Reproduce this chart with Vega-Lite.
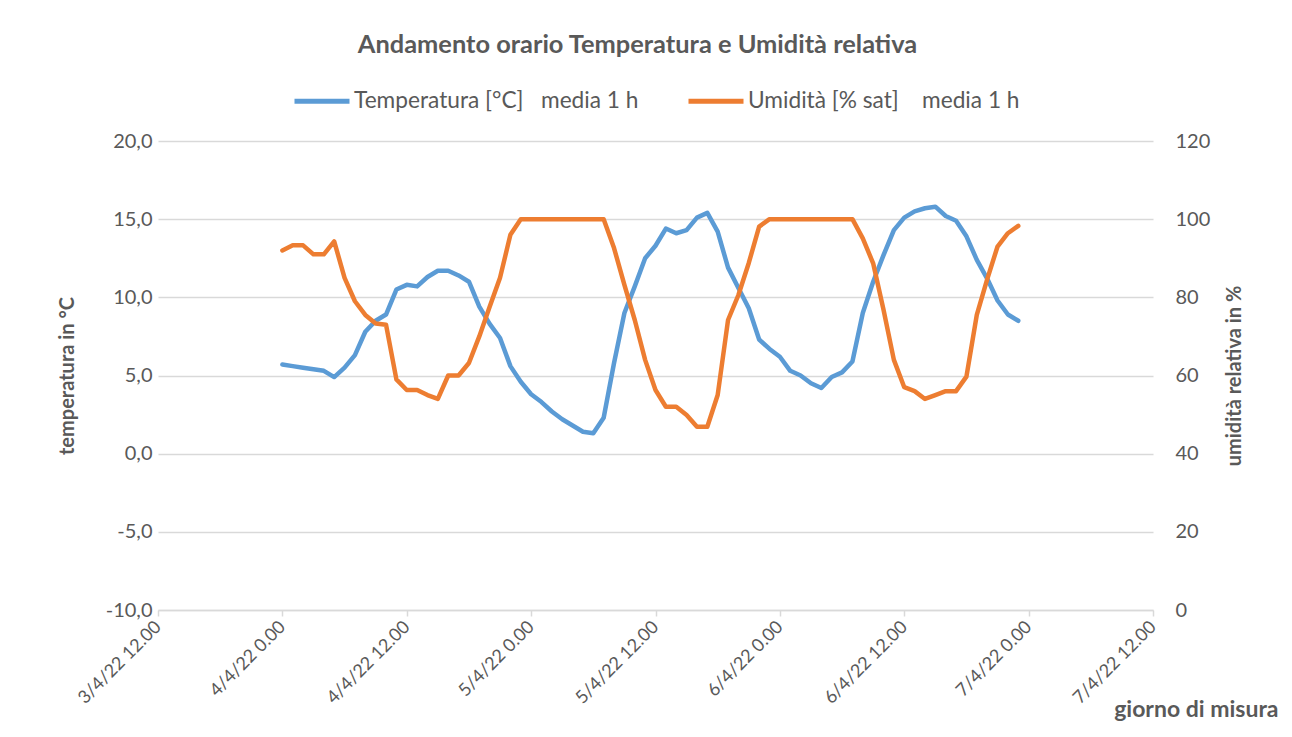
{
  "$schema": "https://vega.github.io/schema/vega-lite/v6.json",
  "width": 995,
  "height": 469,
  "autosize": "none",
  "padding": {"left": 158, "top": 141, "right": 139, "bottom": 127},
  "background": "white",
  "title": {
    "text": "Andamento orario Temperatura e Umidità relativa",
    "font": "Lato",
    "fontSize": 25.4,
    "fontWeight": "bold",
    "color": "#595959",
    "offset": 13,
    "dx": -18
  },
  "config": {
    "view": {"stroke": null},
    "font": "Lato",
    "axis": {
      "labelFont": "Lato",
      "labelFontSize": 20,
      "labelColor": "#595959",
      "titleFont": "Lato",
      "titleFontSize": 20,
      "titleFontWeight": "bold",
      "titleColor": "#595959"
    },
    "legend": {
      "labelFont": "Lato",
      "labelFontSize": 22.7,
      "labelColor": "#595959"
    }
  },
  "data": {
    "values": [
      {"t": "2022-04-04T00:00:00Z", "temp": 5.7, "hum": 92},
      {"t": "2022-04-04T01:00:00Z", "temp": 5.6, "hum": 93.3},
      {"t": "2022-04-04T02:00:00Z", "temp": 5.5, "hum": 93.3},
      {"t": "2022-04-04T03:00:00Z", "temp": 5.4, "hum": 91},
      {"t": "2022-04-04T04:00:00Z", "temp": 5.3, "hum": 91},
      {"t": "2022-04-04T05:00:00Z", "temp": 4.9, "hum": 94.3},
      {"t": "2022-04-04T06:00:00Z", "temp": 5.5, "hum": 85},
      {"t": "2022-04-04T07:00:00Z", "temp": 6.3, "hum": 79},
      {"t": "2022-04-04T08:00:00Z", "temp": 7.8, "hum": 75.5},
      {"t": "2022-04-04T09:00:00Z", "temp": 8.5, "hum": 73.3},
      {"t": "2022-04-04T10:00:00Z", "temp": 8.9, "hum": 73},
      {"t": "2022-04-04T11:00:00Z", "temp": 10.5, "hum": 59},
      {"t": "2022-04-04T12:00:00Z", "temp": 10.8, "hum": 56.3},
      {"t": "2022-04-04T13:00:00Z", "temp": 10.7, "hum": 56.3},
      {"t": "2022-04-04T14:00:00Z", "temp": 11.3, "hum": 55},
      {"t": "2022-04-04T15:00:00Z", "temp": 11.7, "hum": 54},
      {"t": "2022-04-04T16:00:00Z", "temp": 11.7, "hum": 60},
      {"t": "2022-04-04T17:00:00Z", "temp": 11.4, "hum": 60},
      {"t": "2022-04-04T18:00:00Z", "temp": 11.0, "hum": 63.2},
      {"t": "2022-04-04T19:00:00Z", "temp": 9.4, "hum": 70},
      {"t": "2022-04-04T20:00:00Z", "temp": 8.3, "hum": 77.6},
      {"t": "2022-04-04T21:00:00Z", "temp": 7.4, "hum": 85},
      {"t": "2022-04-04T22:00:00Z", "temp": 5.6, "hum": 96},
      {"t": "2022-04-04T23:00:00Z", "temp": 4.6, "hum": 100},
      {"t": "2022-04-05T00:00:00Z", "temp": 3.8, "hum": 100},
      {"t": "2022-04-05T01:00:00Z", "temp": 3.3, "hum": 100},
      {"t": "2022-04-05T02:00:00Z", "temp": 2.7, "hum": 100},
      {"t": "2022-04-05T03:00:00Z", "temp": 2.2, "hum": 100},
      {"t": "2022-04-05T04:00:00Z", "temp": 1.8, "hum": 100},
      {"t": "2022-04-05T05:00:00Z", "temp": 1.4, "hum": 100},
      {"t": "2022-04-05T06:00:00Z", "temp": 1.3, "hum": 100},
      {"t": "2022-04-05T07:00:00Z", "temp": 2.3, "hum": 100},
      {"t": "2022-04-05T08:00:00Z", "temp": 5.8, "hum": 92.6},
      {"t": "2022-04-05T09:00:00Z", "temp": 9.0, "hum": 83.2},
      {"t": "2022-04-05T10:00:00Z", "temp": 10.7, "hum": 74.2},
      {"t": "2022-04-05T11:00:00Z", "temp": 12.5, "hum": 64},
      {"t": "2022-04-05T12:00:00Z", "temp": 13.3, "hum": 56.3},
      {"t": "2022-04-05T13:00:00Z", "temp": 14.4, "hum": 52},
      {"t": "2022-04-05T14:00:00Z", "temp": 14.1, "hum": 52},
      {"t": "2022-04-05T15:00:00Z", "temp": 14.3, "hum": 49.9},
      {"t": "2022-04-05T16:00:00Z", "temp": 15.1, "hum": 46.9},
      {"t": "2022-04-05T17:00:00Z", "temp": 15.4, "hum": 46.9},
      {"t": "2022-04-05T18:00:00Z", "temp": 14.2, "hum": 55},
      {"t": "2022-04-05T19:00:00Z", "temp": 11.9, "hum": 74.2},
      {"t": "2022-04-05T20:00:00Z", "temp": 10.6, "hum": 80.6},
      {"t": "2022-04-05T21:00:00Z", "temp": 9.3, "hum": 88.8},
      {"t": "2022-04-05T22:00:00Z", "temp": 7.3, "hum": 98.1},
      {"t": "2022-04-05T23:00:00Z", "temp": 6.7, "hum": 100},
      {"t": "2022-04-06T00:00:00Z", "temp": 6.2, "hum": 100},
      {"t": "2022-04-06T01:00:00Z", "temp": 5.3, "hum": 100},
      {"t": "2022-04-06T02:00:00Z", "temp": 5.0, "hum": 100},
      {"t": "2022-04-06T03:00:00Z", "temp": 4.5, "hum": 100},
      {"t": "2022-04-06T04:00:00Z", "temp": 4.2, "hum": 100},
      {"t": "2022-04-06T05:00:00Z", "temp": 4.9, "hum": 100},
      {"t": "2022-04-06T06:00:00Z", "temp": 5.2, "hum": 100},
      {"t": "2022-04-06T07:00:00Z", "temp": 5.9, "hum": 100},
      {"t": "2022-04-06T08:00:00Z", "temp": 9.0, "hum": 95.1},
      {"t": "2022-04-06T09:00:00Z", "temp": 11.0, "hum": 88.7},
      {"t": "2022-04-06T10:00:00Z", "temp": 12.7, "hum": 76.8},
      {"t": "2022-04-06T11:00:00Z", "temp": 14.3, "hum": 64},
      {"t": "2022-04-06T12:00:00Z", "temp": 15.1, "hum": 57},
      {"t": "2022-04-06T13:00:00Z", "temp": 15.5, "hum": 56},
      {"t": "2022-04-06T14:00:00Z", "temp": 15.7, "hum": 54},
      {"t": "2022-04-06T15:00:00Z", "temp": 15.8, "hum": 55},
      {"t": "2022-04-06T16:00:00Z", "temp": 15.2, "hum": 56},
      {"t": "2022-04-06T17:00:00Z", "temp": 14.9, "hum": 56},
      {"t": "2022-04-06T18:00:00Z", "temp": 13.9, "hum": 59.7},
      {"t": "2022-04-06T19:00:00Z", "temp": 12.4, "hum": 75.5},
      {"t": "2022-04-06T20:00:00Z", "temp": 11.2, "hum": 84.6},
      {"t": "2022-04-06T21:00:00Z", "temp": 9.8, "hum": 93},
      {"t": "2022-04-06T22:00:00Z", "temp": 8.9, "hum": 96.4},
      {"t": "2022-04-06T23:00:00Z", "temp": 8.5, "hum": 98.3}
    ]
  },
  "encoding": {
    "x": {
      "field": "t",
      "type": "temporal",
      "scale": {
        "type": "utc",
        "domain": [
          {"year": 2022, "month": 4, "date": 3, "hours": 12, "utc": true},
          {"year": 2022, "month": 4, "date": 7, "hours": 12, "utc": true}
        ]
      },
      "axis": {
        "values": [
          {"year": 2022, "month": 4, "date": 3, "hours": 12, "utc": true},
          {"year": 2022, "month": 4, "date": 4, "hours": 0, "utc": true},
          {"year": 2022, "month": 4, "date": 4, "hours": 12, "utc": true},
          {"year": 2022, "month": 4, "date": 5, "hours": 0, "utc": true},
          {"year": 2022, "month": 4, "date": 5, "hours": 12, "utc": true},
          {"year": 2022, "month": 4, "date": 6, "hours": 0, "utc": true},
          {"year": 2022, "month": 4, "date": 6, "hours": 12, "utc": true},
          {"year": 2022, "month": 4, "date": 7, "hours": 0, "utc": true},
          {"year": 2022, "month": 4, "date": 7, "hours": 12, "utc": true}
        ],
        "labelExpr": "utcFormat(datum.value, '%-d/%-m/%y %-H.%M')",
        "labelAngle": -45,
        "labelBaseline": "middle",
        "labelAlign": "right",
        "labelPadding": 8,
        "labelFontSize": 18,
        "labelOverlap": false,
        "grid": false,
        "domainColor": "#D9D9D9",
        "domainWidth": 1.5,
        "tickColor": "#D9D9D9",
        "tickSize": 6,
        "tickWidth": 1.5,
        "title": "giorno di misura",
        "titleX": 1120,
        "titleY": 106,
        "titleAlign": "right",
        "titleBaseline": "alphabetic",
        "titleFontSize": 23
      }
    }
  },
  "layer": [
    {
      "mark": {"type": "line", "strokeWidth": 4.5, "strokeCap": "round", "strokeJoin": "round"},
      "encoding": {
        "y": {
          "field": "temp",
          "type": "quantitative",
          "scale": {"domain": [-10, 20]},
          "axis": {
            "orient": "left",
            "values": [-10, -5, 0, 5, 10, 15, 20],
            "labelExpr": "replace(replace(format(datum.value, '.1f'), '.', ','), '\u2212', '-')",
            "domain": false,
            "ticks": false,
            "grid": true,
            "gridColor": "#D9D9D9",
            "gridWidth": 1.5,
            "labelPadding": 6,
            "title": "temperatura in °C",
            "titlePadding": 28
          }
        },
        "color": {
          "datum": "Temperatura [°C]\u00a0\u00a0\u00a0media 1 h",
          "type": "nominal",
          "scale": {
            "domain": ["Temperatura [°C]\u00a0\u00a0\u00a0media 1 h", "Umidità [% sat]\u00a0\u00a0\u00a0 media 1 h"],
            "range": ["#5B9BD5", "#ED7D31"]
          },
          "legend": {
            "orient": "none",
            "direction": "horizontal",
            "legendX": 134,
            "legendY": -70,
            "title": null,
            "symbolType": "stroke",
            "symbolSize": 3025,
            "symbolStrokeWidth": 5,
            "labelOffset": 2,
            "columnPadding": 39,
            "labelLimit": 400
          }
        }
      }
    },
    {
      "mark": {"type": "line", "strokeWidth": 4.5, "strokeCap": "round", "strokeJoin": "round"},
      "encoding": {
        "y": {
          "field": "hum",
          "type": "quantitative",
          "scale": {"domain": [0, 120]},
          "axis": {
            "orient": "right",
            "values": [0, 20, 40, 60, 80, 100, 120],
            "domain": false,
            "ticks": false,
            "grid": false,
            "labelPadding": 22,
            "title": "umidità relativa in %",
            "titleAngle": 270,
            "titlePadding": 35
          }
        },
        "color": {
          "datum": "Umidità [% sat]\u00a0\u00a0\u00a0 media 1 h",
          "type": "nominal"
        }
      }
    }
  ],
  "resolve": {"scale": {"y": "independent"}}
}
